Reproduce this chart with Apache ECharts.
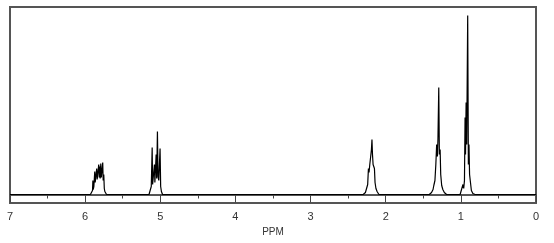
<!DOCTYPE html>
<html><head><meta charset="utf-8">
<script src="https://cdn.jsdelivr.net/npm/echarts@6/dist/echarts.min.js"></script>
<style>html,body{margin:0;padding:0;background:#fff}#c{width:554px;height:243px}</style>
</head><body><div id="c"></div>
<script>
// Spectrum points: chemical shift (ppm) and intensity (arbitrary units)
const ppm = [
  7.000,
  5.930, 5.912, 5.902, 5.897, 5.893, 5.884, 5.872, 5.866, 5.858, 5.846, 5.840, 5.829, 5.819, 5.812, 5.806, 5.800, 5.792, 5.785, 5.778, 5.766, 5.760, 5.752, 5.745, 5.738, 5.728, 5.715,
  5.150, 5.135, 5.120, 5.108, 5.102, 5.090, 5.078, 5.072, 5.062, 5.055, 5.048, 5.038, 5.030, 5.020, 5.003, 4.995, 4.985, 4.970,
  2.300, 2.270, 2.255, 2.240, 2.230, 2.222, 2.212, 2.200, 2.190, 2.183, 2.176, 2.168, 2.150, 2.142, 2.130, 2.115, 2.090,
  1.420, 1.390, 1.370, 1.360, 1.345, 1.333, 1.322, 1.312, 1.305, 1.294, 1.286, 1.276, 1.268, 1.255, 1.240, 1.220, 1.190,
  1.010, 0.985, 0.972, 0.962, 0.952, 0.944, 0.938, 0.930, 0.922, 0.909, 0.900, 0.892, 0.884, 0.872, 0.860, 0.840, 0.810,
  0.000
];
const intensity = [
  0,
  0, 1, 4, 14, 5, 8, 23, 12, 18, 26, 15, 16, 30, 17, 28, 16, 31, 17, 18, 32, 14, 20, 6, 3, 1, 0,
  0, 2, 8, 47, 10, 8, 30, 12, 14, 40, 16, 63, 18, 14, 46, 8, 3, 0,
  0, 2, 6, 10, 26, 22, 30, 38, 45, 55, 40, 30, 26, 12, 6, 3, 0,
  0, 2, 5, 9, 14, 30, 50, 38, 55, 107, 40, 45, 20, 9, 5, 2, 0,
  0, 2, 10, 6, 14, 77, 40, 92, 50, 179, 30, 50, 20, 12, 4, 1, 0,
  0
];
const xTicks = [0, 1, 2, 3, 4, 5, 6, 7];
const xName = 'PPM';

const chart = echarts.init(document.getElementById('c'), null, {renderer: 'canvas'});
chart.setOption({
  animation: false,
  backgroundColor: '#fff',
  grid: {left: 10, right: 18, top: 7, bottom: 40, show: true, borderColor: '#555', borderWidth: 2, backgroundColor: 'transparent'},
  xAxis: {
    type: 'value', min: xTicks[0], max: xTicks[xTicks.length - 1], interval: 1, inverse: true,
    name: xName, nameLocation: 'middle', nameGap: 21,
    nameTextStyle: {color: '#333', fontFamily: 'Liberation Sans', fontSize: 10},
    axisLine: {show: true, lineStyle: {color: '#555', width: 2}},
    axisTick: {show: true, inside: false, length: 8, lineStyle: {color: '#444', width: 1}},
    minorTick: {show: true, splitNumber: 2, length: 4, lineStyle: {color: '#444', width: 1}},
    axisLabel: {color: '#333', fontFamily: 'Liberation Sans', fontSize: 11, margin: 8},
    splitLine: {show: false}
  },
  yAxis: {type: 'value', min: -8.5, max: 187.5, show: false, splitLine: {show: false}},
  series: [{
    type: 'line', showSymbol: false, symbol: 'none',
    data: ppm.map((p, i) => [p, intensity[i]]),
    lineStyle: {color: '#000', width: 1.2},
    z: 3
  }]
});
</script></body></html>
